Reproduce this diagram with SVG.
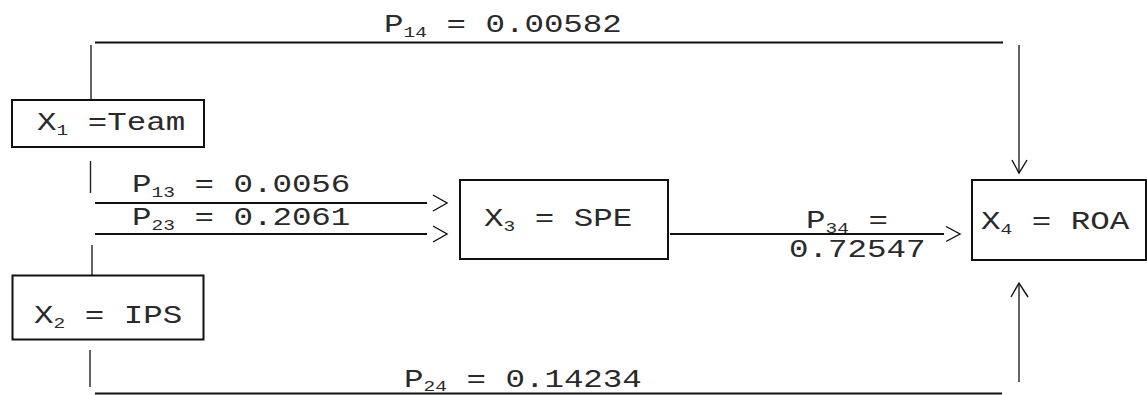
<svg xmlns="http://www.w3.org/2000/svg" width="1147" height="395" viewBox="0 0 1147 395">
<style>
.box{fill:#fff;stroke:#111;stroke-width:2}
.t{font-family:"Liberation Mono","Courier New",monospace;font-size:25px;fill:#2a2a2a}
.sub{font-size:15px}
.h{stroke:#111;stroke-width:2;fill:none}
.v{stroke:#222;stroke-width:1.4;fill:none}
.ah{stroke:#111;stroke-width:1.4;fill:none}
</style>
<rect width="1147" height="395" fill="#fff"/>
<g id="connectors">
  <g id="e14">
    <line class="v" x1="91" y1="45" x2="91" y2="101"/>
    <line class="h" x1="95" y1="42.5" x2="1003" y2="42.5"/>
    <line class="v" x1="1019" y1="45" x2="1019" y2="173"/>
    <polyline class="ah" points="1012,160 1019,173 1027,160"/>
    <text class="t" transform="translate(384,32) scale(1.3,1)">P<tspan class="sub" dy="5">14</tspan><tspan dy="-5"> = 0.00582</tspan></text>
  </g>
  <g id="e13">
    <line class="v" x1="90.5" y1="161" x2="90.5" y2="193"/>
    <line class="h" x1="95" y1="203" x2="427" y2="203"/>
    <polyline class="ah" points="433,195 447,203 433,211"/>
    <text class="t" transform="translate(132,192) scale(1.3,1)">P<tspan class="sub" dy="5">13</tspan><tspan dy="-5"> = 0.0056</tspan></text>
  </g>
  <g id="e23">
    <line class="v" x1="92" y1="245" x2="92" y2="282"/>
    <line class="h" x1="95" y1="234" x2="427" y2="234"/>
    <polyline class="ah" points="433,226 447,234 433,242"/>
    <text class="t" transform="translate(132,225) scale(1.3,1)">P<tspan class="sub" dy="5">23</tspan><tspan dy="-5"> = 0.2061</tspan></text>
  </g>
  <g id="e34">
    <line class="h" x1="670" y1="234" x2="944" y2="234"/>
    <polyline class="ah" points="946,226.5 960,234 946,241.5"/>
    <text class="t" transform="translate(806,228) scale(1.3,1)">P<tspan class="sub" dy="5">34</tspan><tspan dy="-5"> =</tspan></text>
    <text class="t" transform="translate(789,257) scale(1.3,1)">0.72547</text>
  </g>
  <g id="e24">
    <line class="v" x1="90" y1="350" x2="90" y2="387"/>
    <line class="h" x1="95" y1="393.5" x2="1002" y2="393.5"/>
    <line class="v" x1="1019" y1="382" x2="1019" y2="284"/>
    <polyline class="ah" points="1011,297 1019,283 1028,297"/>
    <text class="t" transform="translate(404,387) scale(1.3,1)">P<tspan class="sub" dy="4">24</tspan><tspan dy="-4"> = 0.14234</tspan></text>
  </g>
</g>
<g id="n1">
  <rect class="box" x="12" y="100" width="192" height="47"/>
  <text class="t" transform="translate(37,129.5) scale(1.3,1)">X<tspan class="sub" dy="5">1</tspan><tspan dy="-5"> =Team</tspan></text>
</g>
<g id="n2">
  <rect class="box" x="12.5" y="275.5" width="191" height="64"/>
  <text class="t" transform="translate(34,323) scale(1.3,1)">X<tspan class="sub" dy="5">2</tspan><tspan dy="-5"> = IPS</tspan></text>
</g>
<g id="n3">
  <rect class="box" x="460" y="180" width="208" height="79"/>
  <text class="t" transform="translate(484,226) scale(1.3,1)">X<tspan class="sub" dy="5">3</tspan><tspan dy="-5"> = SPE</tspan></text>
</g>
<g id="n4">
  <rect class="box" x="972" y="180" width="174" height="80"/>
  <text class="t" transform="translate(981,229) scale(1.3,1)">X<tspan class="sub" dy="5">4</tspan><tspan dy="-5"> = ROA</tspan></text>
</g>
</svg>
